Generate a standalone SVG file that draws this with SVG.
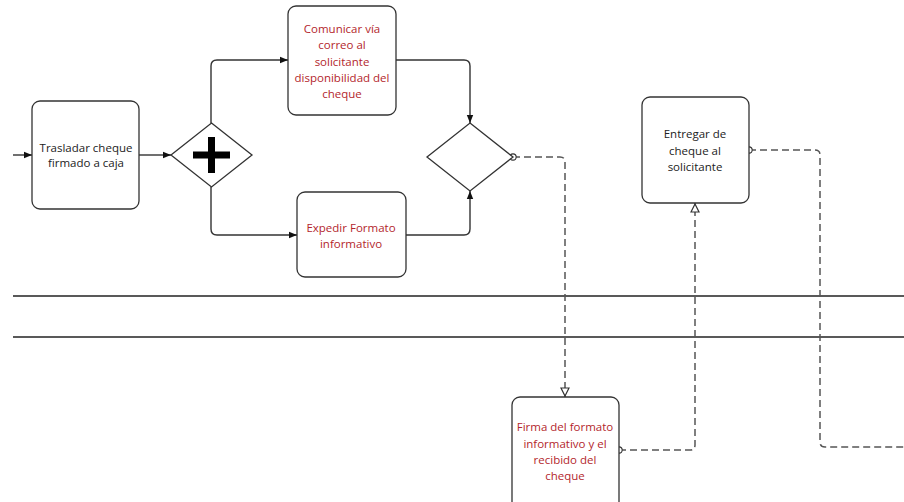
<svg xmlns="http://www.w3.org/2000/svg" width="904" height="502" viewBox="0 0 904 502">
  <style>
    .task { fill: #ffffff; stroke: #333333; stroke-width: 1.3; }
    .gw { fill: #ffffff; stroke: #333333; stroke-width: 1.3; }
    .lbl { font-family: "Open Sans", "Liberation Sans", sans-serif; font-size: 11.5px; text-anchor: middle; dominant-baseline: central; }
    .blk { fill: #222222; }
    .red { fill: #b3262c; }
    .flow { fill: none; stroke: #333333; stroke-width: 1.4; }
    .msg { fill: none; stroke: #555555; stroke-width: 1.5; stroke-dasharray: 7 4; }
    .lane { stroke: #222222; stroke-width: 1.4; }
  </style>
  <defs>
    <marker id="seq" viewBox="0 0 10 10" refX="10" refY="5" markerWidth="8" markerHeight="8" markerUnits="userSpaceOnUse" orient="auto">
      <path d="M0,1 L10,5 L0,9 Z" fill="#111111"/>
    </marker>
    <marker id="msgEnd" viewBox="0 0 10 10" refX="10" refY="5" markerWidth="10" markerHeight="10" markerUnits="userSpaceOnUse" orient="auto">
      <path d="M1,1 L9,5 L1,9 Z" fill="#ffffff" stroke="#333333" stroke-width="1.2"/>
    </marker>
    <marker id="msgStart" viewBox="0 0 10 10" refX="5" refY="5" markerWidth="9" markerHeight="9" markerUnits="userSpaceOnUse">
      <circle cx="5" cy="5" r="3.5" fill="#ffffff" stroke="#333333" stroke-width="1.2"/>
    </marker>
  </defs>

  <!-- lane separators -->
  <g id="lanes">
    <line class="lane" x1="13" y1="296" x2="904" y2="296"/>
    <line class="lane" x1="13" y1="337" x2="904" y2="337"/>
  </g>

  <!-- sequence and message flows -->
  <g id="connectors">
    <path class="flow" d="M13,155 H32" marker-end="url(#seq)"/>
    <path class="flow" d="M139,155 H171" marker-end="url(#seq)"/>
    <path class="flow" d="M211,123 V66 Q211,60 217,60 H288" marker-end="url(#seq)"/>
    <path class="flow" d="M211,187 V229 Q211,235 217,235 H297" marker-end="url(#seq)"/>
    <path class="flow" d="M396,60 H464 Q470,60 470,66 V123" marker-end="url(#seq)"/>
    <path class="flow" d="M406,235 H464 Q470,235 470,229 V191" marker-end="url(#seq)"/>
    <path class="msg" d="M513,157 H560 Q565,157 565,162 V397" marker-start="url(#msgStart)" marker-end="url(#msgEnd)"/>
    <path class="msg" d="M619,450 H690 Q695,450 695,445 V203" marker-start="url(#msgStart)" marker-end="url(#msgEnd)"/>
    <path class="msg" d="M749,150 H815 Q820,150 820,155 V442 Q820,447 825,447 H904" marker-start="url(#msgStart)"/>
  </g>

  <g id="trasladar">
    <rect class="task" x="32" y="101" width="107" height="108" rx="8"/>
    <text class="lbl blk" x="86" y="147">Trasladar cheque</text>
    <text class="lbl blk" x="86" y="162">firmado a caja</text>
  </g>

  <g id="gw-parallel">
    <polygon class="gw" points="211.5,123 252,155 211.5,187 171,155"/>
    <rect x="193" y="151.5" width="37" height="7" fill="#000000"/>
    <rect x="208" y="137" width="7" height="36" fill="#000000"/>
  </g>

  <g id="comunicar">
    <rect class="task" x="288" y="6" width="108" height="109" rx="8"/>
    <text class="lbl red" x="342" y="28">Comunicar vía</text>
    <text class="lbl red" x="342" y="44">correo al</text>
    <text class="lbl red" x="342" y="61">solicitante</text>
    <text class="lbl red" x="342" y="77">disponibilidad del</text>
    <text class="lbl red" x="342" y="93">cheque</text>
  </g>

  <g id="expedir">
    <rect class="task" x="297" y="192" width="109" height="85" rx="8"/>
    <text class="lbl red" x="351" y="227">Expedir Formato</text>
    <text class="lbl red" x="351" y="243">informativo</text>
  </g>

  <g id="gw-join">
    <polygon class="gw" points="470,123 513,157 470,191 427,157"/>
  </g>

  <g id="entregar">
    <rect class="task" x="642" y="97" width="107" height="106" rx="8"/>
    <text class="lbl blk" x="695" y="133">Entregar de</text>
    <text class="lbl blk" x="695" y="150">cheque al</text>
    <text class="lbl blk" x="695" y="166">solicitante</text>
  </g>

  <g id="firma">
    <rect class="task" x="512" y="397" width="107" height="115" rx="8"/>
    <text class="lbl red" x="565" y="426">Firma del formato</text>
    <text class="lbl red" x="565" y="443">informativo y el</text>
    <text class="lbl red" x="565" y="459">recibido del</text>
    <text class="lbl red" x="565" y="475">cheque</text>
  </g>
</svg>
